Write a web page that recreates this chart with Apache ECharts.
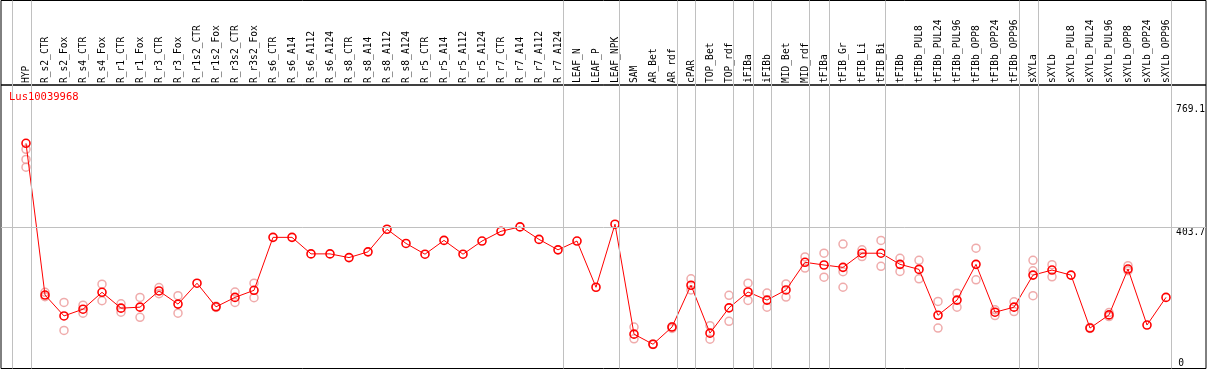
<!DOCTYPE html>
<html>
<head>
<meta charset="utf-8">
<script src="https://cdn.jsdelivr.net/npm/echarts@6/dist/echarts.min.js"></script>
<style>
html,body{margin:0;padding:0;background:#fff;}
#chart{width:1209px;height:370px;}
</style>
</head>
<body>
<div id="chart"></div>
<script>
const geneName = 'Lus10039968';
const categories = ['HYP','R_s2_CTR','R_s2_Fox','R_s4_CTR','R_s4_Fox','R_r1_CTR','R_r1_Fox','R_r3_CTR','R_r3_Fox','R_r1s2_CTR','R_r1s2_Fox','R_r3s2_CTR','R_r3s2_Fox','R_s6_CTR','R_s6_A14','R_s6_A112','R_s6_A124','R_s8_CTR','R_s8_A14','R_s8_A112','R_s8_A124','R_r5_CTR','R_r5_A14','R_r5_A112','R_r5_A124','R_r7_CTR','R_r7_A14','R_r7_A112','R_r7_A124','LEAF_N','LEAF_P','LEAF_NPK','SAM','AR_Bet','AR_rdf','cPAR','TOP_Bet','TOP_rdf','iFIBa','iFIBb','MID_Bet','MID_rdf','tFIBa','tFIB_Gr','tFIB_Li','tFIB_Bi','tFIBb','tFIBb_PUL8','tFIBb_PUL24','tFIBb_PUL96','tFIBb_OPP8','tFIBb_OPP24','tFIBb_OPP96','sXYLa','sXYLb','sXYLb_PUL8','sXYLb_PUL24','sXYLb_PUL96','sXYLb_OPP8','sXYLb_OPP24','sXYLb_OPP96'];
const meanValues = [654,204,142,162,212,165,168,216,177,239,169,197,218,
  375,375,326,326,315,332,399,357,325,366,325,364,393,406,369,338,364,227,414,
  88,58,109,233,91,166,213,189,219,301,293,286,328,328,295,280,144,189,295,153,168,263,278,263,106,145,281,115,197];
const rep1 = [636,212,182,174,236,178,197,226,202,null,171,213,239,
  null,null,null,null,null,null,null,null,null,null,null,null,null,null,null,null,null,null,null,
  109,59,105,252,113,203,239,210,237,317,328,355,338,366,313,307,185,209,343,160,184,307,294,null,108,152,291,null,null];
const rep2 = [606,199,99,150,187,153,138,208,150,null,167,182,196,
  null,null,null,null,null,null,null,null,null,null,null,null,null,null,null,null,null,null,null,
  74,57,110,219,73,126,188,168,198,284,257,273,318,289,274,252,106,168,249,143,155,276,258,null,105,140,276,null,null];
const rep3 = [583,null,null,null,null,null,null,null,null,null,null,null,null,
  null,null,null,null,null,null,null,null,null,null,null,null,null,null,null,null,null,null,null,
  null,null,null,null,null,null,null,null,null,null,null,227,null,null,null,null,null,null,null,null,null,202,null,null,null,null,null,null,null];
const groupEnds = [-1,0,28,31,34,35,37,38,39,41,42,45,52,53,60];
const yTickLabels = [0, 403.7, 769.1];
const referenceLine = 403.7;

const FONT = 'DejaVu Sans Mono';
const xMin = -25/19, xMax = 1180/19;
const yMin = -13.9, yMax = 826.8;

const meanData = meanValues.map((v,i)=>[i,v]);
const repData = [];
[rep1,rep2,rep3].forEach(arr=>arr.forEach((v,i)=>{ if(v!==null) repData.push([i,v]); }));
const vLines = groupEnds.map(e=>({xAxis: e + 0.25}));

const grayLine = {color:'#c0c0c0', width:1, type:'solid'};

const chart = echarts.init(document.getElementById('chart'), null, {renderer:'canvas'});
chart.setOption({
  animation:false,
  backgroundColor:'#fff',
  title:{
    text: geneName, left: 9, top: 92, padding: 0,
    textStyle:{color:'#ff0000', fontFamily: FONT, fontSize: 10.5, fontWeight:'normal'}
  },
  grid:[
    {left:1, right:3, top:85, bottom:1.5, show:true, borderColor:'#000', borderWidth:1, backgroundColor:'transparent'},
    {left:16.5, width:1159, top:85, bottom:1.5, show:false},
    {left:1, right:3, top:0.5, height:84.5, show:true, borderColor:'#000', borderWidth:1, backgroundColor:'transparent'}
  ],
  xAxis:[
    {type:'value', gridIndex:0, min:xMin, max:xMax, show:false},
    {type:'category', gridIndex:1, data:categories, position:'top', boundaryGap:true,
      axisLine:{show:false}, axisTick:{show:false}, splitLine:{show:false},
      axisLabel:{rotate:90, interval:0, margin:2, color:'#000', fontFamily:FONT, fontSize:9.6}},
    {type:'value', gridIndex:2, min:xMin, max:xMax, show:false}
  ],
  yAxis:[
    {type:'value', gridIndex:0, min:yMin, max:yMax, position:'right',
      axisLine:{show:false}, axisTick:{show:false}, splitLine:{show:false},
      axisLabel:{inside:true, margin:1, customValues: yTickLabels.filter(v=>v!==0), verticalAlign:'top',
        color:'#000', fontFamily:FONT, fontSize:9.6, formatter:(v)=>String(v)}},
    {type:'value', gridIndex:0, min:yMin, max:yMax, position:'right',
      axisLine:{show:false}, axisTick:{show:false}, splitLine:{show:false},
      axisLabel:{inside:true, margin:22, customValues: yTickLabels.filter(v=>v===0), verticalAlign:'middle',
        color:'#000', fontFamily:FONT, fontSize:9.6, formatter:(v)=>String(v)}},
    {type:'value', gridIndex:1, show:false},
    {type:'value', gridIndex:2, min:0, max:1, show:false}
  ],
  series:[
    {type:'scatter', xAxisIndex:2, yAxisIndex:3, data:[], silent:true,
      markLine:{silent:true, symbol:'none', label:{show:false}, lineStyle:grayLine, animation:false, data:vLines}},
    {type:'scatter', xAxisIndex:0, yAxisIndex:0, data:[], silent:true, z:1,
      markLine:{silent:true, symbol:'none', label:{show:false}, lineStyle:grayLine, animation:false,
        data: vLines.concat([{yAxis: referenceLine}])}},
    {type:'scatter', xAxisIndex:0, yAxisIndex:0, data:repData, symbol:'circle', symbolSize:8, z:2,
      itemStyle:{color:'rgba(0,0,0,0)', borderColor:'#eb9696', borderWidth:1.5}},
    {type:'line', xAxisIndex:0, yAxisIndex:0, data:meanData, symbol:'circle', symbolSize:8, z:3,
      showAllSymbol:true,
      lineStyle:{color:'#ff0000', width:1},
      itemStyle:{color:'rgba(0,0,0,0)', borderColor:'#ff0000', borderWidth:1.6}}
  ]
});
</script>
</body>
</html>
